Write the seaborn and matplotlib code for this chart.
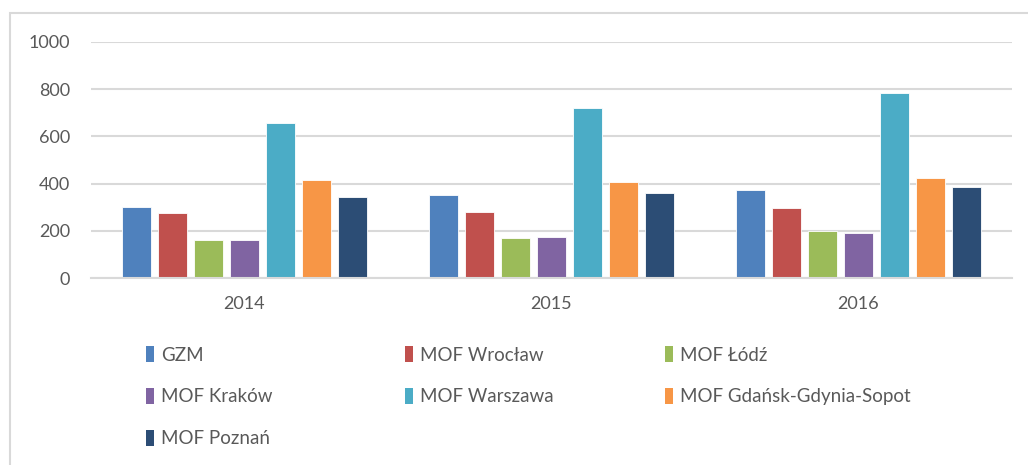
import numpy as np
import pandas as pd
import matplotlib
matplotlib.use("Agg")
import matplotlib.pyplot as plt
import seaborn as sns
from matplotlib.patches import Patch, Rectangle

years = ["2014", "2015", "2016"]
regions = ["GZM", "MOF Wrocław", "MOF Łódź", "MOF Kraków",
           "MOF Warszawa", "MOF Gdańsk-Gdynia-Sopot", "MOF Poznań"]
gzm = [300, 351, 372]
wroclaw = [274, 278, 295]
lodz = [159, 169, 199]
krakow = [159, 172, 192]
warszawa = [658, 719, 785]
gdansk = [416, 407, 425]
poznan = [345, 362, 386]
colors = ["#4F81BD", "#C0504D", "#9BBB59", "#8064A2",
          "#4BACC6", "#F79646", "#2C4D75"]

series = [gzm, wroclaw, lodz, krakow, warszawa, gdansk, poznan]
rows = []
for name, vals in zip(regions, series):
    for y, v in zip(years, vals):
        rows.append({"year": y, "region": name, "value": v})
df = pd.DataFrame(rows)

sns.set_style("white")
plt.rcParams["font.family"] = ["Lato", "DejaVu Sans"]
txt = "#595959"
grid = "#D9D9D9"

fig = plt.figure(figsize=(10.28, 4.65), dpi=100)
ax = fig.add_axes([91/1028, 1-278/465, 921/1028, 236/465])

sns.barplot(data=df, x="year", y="value", hue="region", hue_order=regions,
            order=years, palette=colors, saturation=1, width=0.82, gap=0.2,
            edgecolor="white", linewidth=0.6, legend=False, ax=ax)

ax.set_ylim(0, 1000)
ax.set_yticks(np.arange(0, 1001, 200))
ax.set_xlim(-0.5, 2.5)
ax.yaxis.grid(True, color=grid, linewidth=1.5)
ax.set_axisbelow(True)
for s in ["top", "right", "left"]:
    ax.spines[s].set_visible(False)
ax.spines["bottom"].set_color(grid)
ax.spines["bottom"].set_linewidth(1.5)
ax.tick_params(axis="both", length=0, labelsize=13, colors=txt)
ax.tick_params(axis="y", pad=15)
ax.tick_params(axis="x", pad=13)
ax.set_xlabel("")
ax.set_ylabel("")

# legend in three columns placed like the original
cols = [[0, 3, 6], [1, 4], [2, 5]]
xs = [146, 405, 665]
for idx, x0 in zip(cols, xs):
    handles = [Patch(facecolor=colors[i], edgecolor="none") for i in idx]
    leg = fig.legend(handles, [regions[i] for i in idx],
                     loc="upper left", bbox_to_anchor=(x0/1028, 1-346/465),
                     frameon=False, fontsize=13.5, handlelength=0.45,
                     handleheight=0.95, handletextpad=0.35, labelspacing=1.3,
                     borderaxespad=0, borderpad=0)
    for t in leg.get_texts():
        t.set_color(txt)

fig.patches.append(Rectangle((10/1028, -0.1), 1.2, 1 - 13/465 + 0.1,
                             transform=fig.transFigure, fill=False,
                             edgecolor=grid, linewidth=1.5))

fig.savefig("out.png", dpi=100)
